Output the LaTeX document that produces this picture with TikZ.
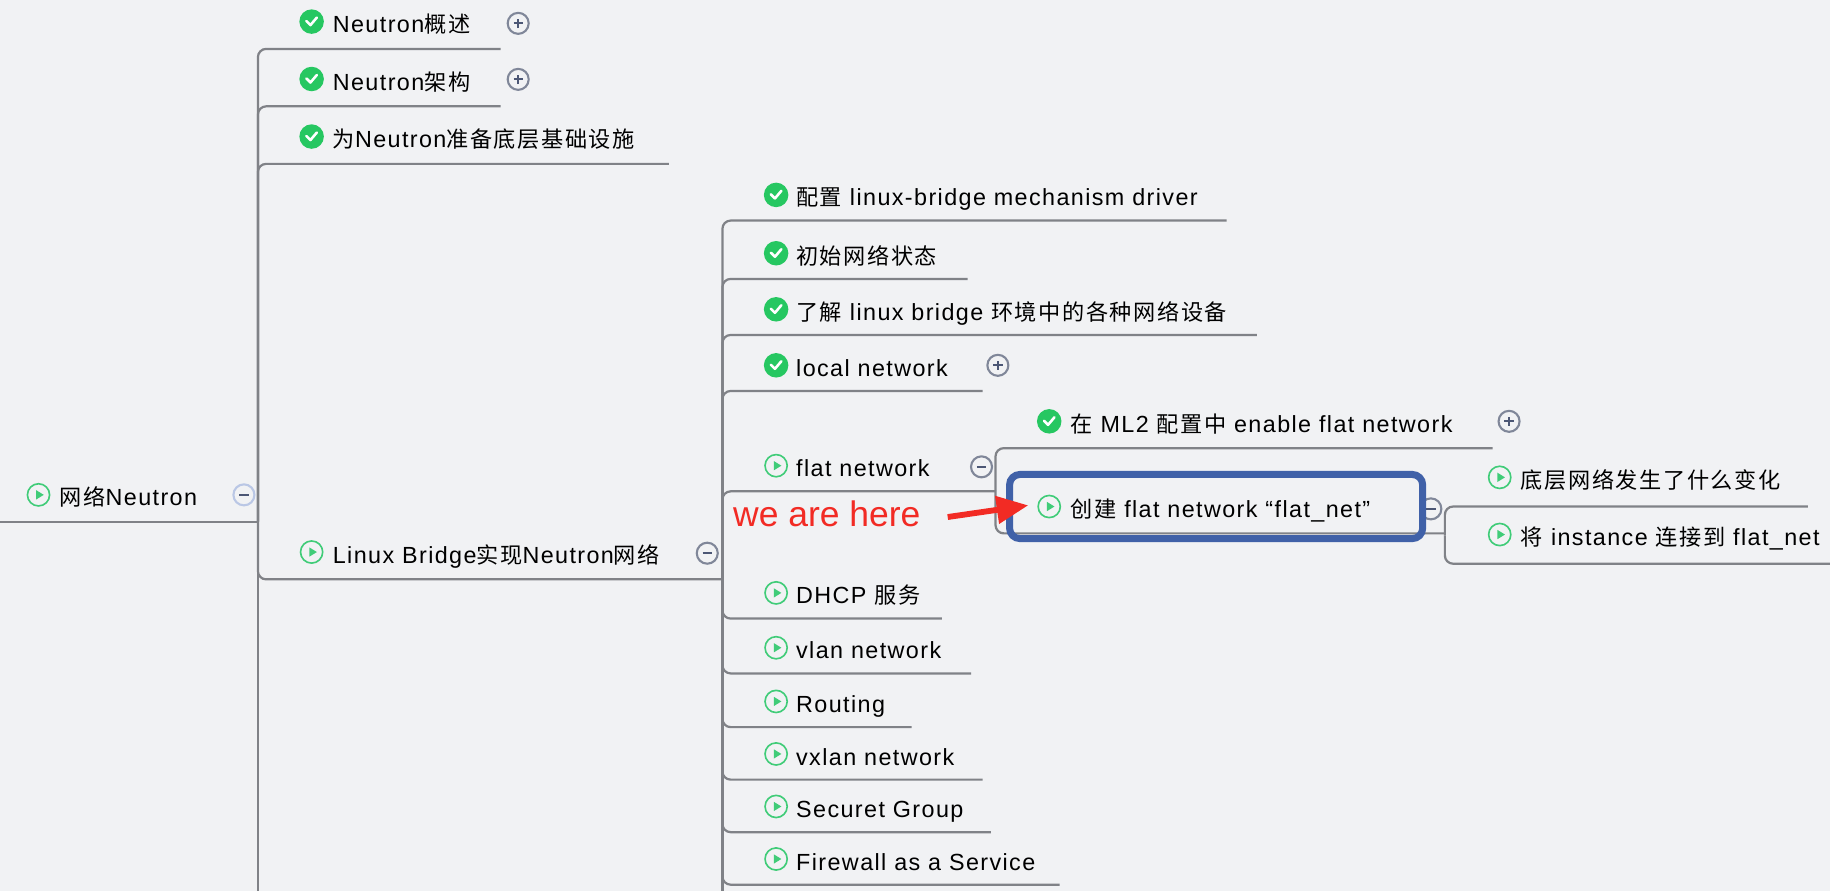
\documentclass[tikz,border=0pt]{standalone}
\usepackage{fontspec}
\setmainfont[LetterSpace=6]{Liberation Sans}
\newfontfamily\cjk[LetterSpace=7,Scale=0.95]{Noto Sans CJK SC}
\newfontfamily\notefont{Liberation Sans}
\usetikzlibrary{arrows.meta}
\definecolor{paper}{rgb}{0.945,0.949,0.957}
\definecolor{branchgray}{rgb}{0.5,0.51,0.53}
\definecolor{donegreen}{rgb}{0.15,0.78,0.38}
\definecolor{startgreen}{rgb}{0.25,0.8,0.47}
\definecolor{ringgray}{rgb}{0.5,0.53,0.6}
\definecolor{ringblue}{rgb}{0.73,0.78,0.9}
\definecolor{signgray}{rgb}{0.3,0.34,0.46}
\definecolor{herered}{rgb}{0.95,0.17,0.14}
\definecolor{boxblue}{rgb}{0.25,0.38,0.66}
\tikzset{
  topic/.style={anchor=base west, inner sep=0pt, font=\fontsize{20}{24}\selectfont},
  branch/.style={draw=branchgray, line width=1.9pt, rounded corners=7pt},
  doneicon/.style={circle, fill=donegreen, inner sep=0pt, minimum size=21pt,
    path picture={\draw[white, line width=2.2pt, line cap=round, line join=round]
      ([shift={(-4.5pt,0.5pt)}]path picture bounding box.center)
      -- ([shift={(-1pt,-3pt)}]path picture bounding box.center)
      -- ([shift={(4.5pt,3.5pt)}]path picture bounding box.center);}},
  starticon/.style={circle, draw=startgreen, line width=1.4pt, fill=paper, inner sep=0pt, minimum size=19pt,
    path picture={\fill[startgreen]
      ([shift={(-2pt,4pt)}]path picture bounding box.center)
      -- ([shift={(4.5pt,0pt)}]path picture bounding box.center)
      -- ([shift={(-2pt,-4pt)}]path picture bounding box.center) -- cycle;}},
  togglering/.style={circle, draw=ringgray, line width=1.8pt, fill=paper, inner sep=0pt, minimum size=18pt},
  minusring/.style={togglering,
    path picture={\draw[signgray, line width=1.8pt]
      ([xshift=-4pt]path picture bounding box.center) -- ([xshift=4pt]path picture bounding box.center);}},
  plusring/.style={minusring,
    path picture={\draw[signgray, line width=1.8pt]
      ([xshift=-4pt]path picture bounding box.center) -- ([xshift=4pt]path picture bounding box.center)
      ([yshift=-4pt]path picture bounding box.center) -- ([yshift=4pt]path picture bounding box.center);}},
}
\begin{document}
\begin{tikzpicture}[x=1pt,y=-1pt]
\useasboundingbox (0,0) rectangle (1568,763);
\clip (0,0) rectangle (1568,763);
\fill[paper] (0,0) rectangle (1568,763);
%
\coordinate (netend) at (0,447);
\coordinate (netjoin) at (221,447);
\coordinate (netbottom) at (221,790);
\coordinate (bridgejoin) at (619,496);
\coordinate (bridgebottom) at (619,790);
\coordinate (flatjoin) at (853,420);
\coordinate (createjoin) at (1238,459);
%
\draw[branch] (netend) -- (netjoin);
\draw[branch] (netjoin) -- (netbottom);
\draw[branch] (bridgejoin) -- (bridgebottom);
%
% first level
\foreach \id/\kind/\y/\len/\txt in {
    overview/doneicon/18.5/429/Neutron{\cjk 概述},
    arch/doneicon/67.7/429/Neutron{\cjk 架构},
    infra/doneicon/117/573/{\cjk 为}Neutron{\cjk 准备底层基础设施},
    bridge/starticon/473/619/Linux Bridge{\cjk 实现}Neutron{\cjk 网络}} {
    \node[\kind] (\id icon) at (267,\y) {};
    \node[topic] (\id text) at (285,\y+9.5) {\txt};
    \coordinate (\id end) at (\len,\y+23.4);
    \draw[branch] (netjoin) |- (\id end);
}
%
% second level
\foreach \id/\kind/\y/\len/\txt in {
    driver/doneicon/167/1051/{\cjk 配置} linux-bridge mechanism driver,
    state/doneicon/217/829/{\cjk 初始网络状态},
    devices/doneicon/265/1077/{\cjk 了解} linux bridge {\cjk 环境中的各种网络设备},
    local/doneicon/313/842/local network,
    flat/starticon/399/853/flat network,
    dhcp/starticon/508/807/DHCP {\cjk 服务},
    vlan/starticon/555/832/vlan network,
    routing/starticon/601/781/Routing,
    vxlan/starticon/646/842/vxlan network,
    secure/starticon/691/849/Securet Group,
    firewall/starticon/736/908/Firewall as a Service} {
    \node[\kind] (\id icon) at (665,\y) {};
    \node[topic] (\id text) at (682,\y+9.5) {\txt};
    \coordinate (\id end) at (\len,\y+22);
    \draw[branch] (bridgejoin) |- (\id end);
}
%
% third level
\foreach \id/\kind/\y/\len/\txt in {
    enable/doneicon/361/1279/{\cjk 在} ML2 {\cjk 配置中} enable flat network,
    create/starticon/434/1238/{\cjk 创建} flat network “flat\_net”} {
    \node[\kind] (\id icon) at (899,\y) {};
    \node[topic] (\id text) at (917,\y+9.5) {\txt};
    \coordinate (\id end) at (\len,\y+23);
    \draw[branch] (flatjoin) |- (\id end);
}
%
% fourth level
\foreach \id/\kind/\y/\len/\txt in {
    change/starticon/409/1549/{\cjk 底层网络发生了什么变化},
    attach/starticon/458/1568/{\cjk 将} instance {\cjk 连接到} flat\_net} {
    \node[\kind] (\id icon) at (1285,\y) {};
    \node[topic] (\id text) at (1303,\y+9.5) {\txt};
    \coordinate (\id end) at (\len,\y+25);
    \draw[branch] (createjoin) |- (\id end);
}
%
\node[minusring, draw=ringblue] (nettoggle) at (209,424) {};
\node[topic] (nettext) at (51,433) {{\cjk 网络}Neutron};
\node[starticon] (neticon) at (33,424) {};
\node[plusring] (overviewtoggle) at (444,20) {};
\node[plusring] (archtoggle) at (444,68) {};
\node[minusring] (bridgetoggle) at (606,474) {};
\node[plusring] (localtoggle) at (855,313) {};
\node[minusring] (flattoggle) at (841,400) {};
\node[plusring] (enabletoggle) at (1293,361) {};
\node[minusring] (createtoggle) at (1226,436) {};
%
\node[draw=boxblue, line width=6pt, rounded corners=9pt, minimum width=354pt, minimum height=55pt, inner sep=0pt]
    (herebox) at (1042,434) {};
\node[anchor=base west, inner sep=0pt, text=herered, font=\notefont\fontsize{30.4}{34}\selectfont]
    (heretext) at (628,451) {we are here};
\coordinate (heretail) at (812,443);
\coordinate (heretip) at (881,433);
\draw[draw=herered, line width=5pt, -{Triangle[length=27pt,width=23pt]}] (heretail) -- (heretip);
\end{tikzpicture}
\end{document}
